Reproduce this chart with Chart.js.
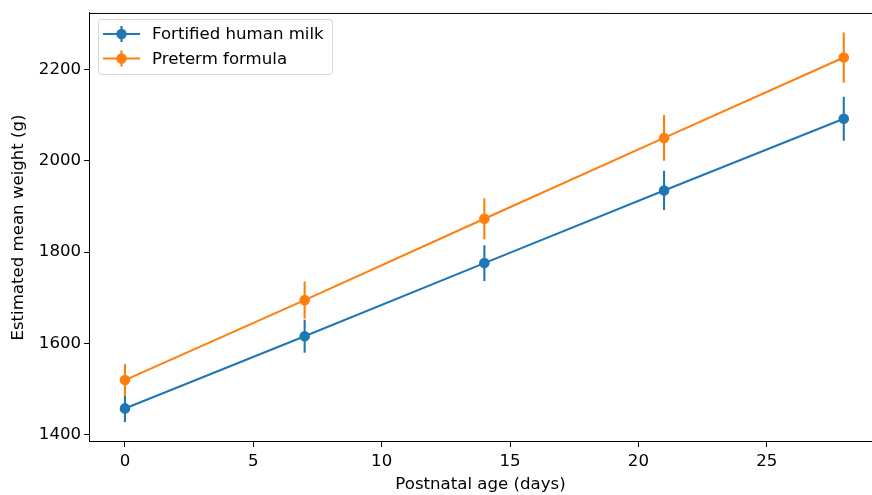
<!DOCTYPE html>
<html>
<head>
<meta charset="utf-8">
<script src="https://cdn.jsdelivr.net/npm/chart.js@4"></script>
<style>
html,body{margin:0;padding:0;background:#fff;}
#wrap{width:872px;height:495px;}
</style>
</head>
<body>
<div id="wrap"><canvas id="c" width="872" height="495"></canvas></div>
<script>
const days = [0, 7, 14, 21, 28];
const milkMean = [1458, 1616, 1776, 1935, 2092];
const milkErr = [30, 36, 39, 43, 48];
const formulaMean = [1520, 1695, 1873, 2050, 2226];
const formulaErr = [35, 41, 45, 50, 55];
const xTicks = [0, 5, 10, 15, 20, 25];
const yTicks = [1400, 1600, 1800, 2000, 2200];
const seriesNames = ['Fortified human milk', 'Preterm formula'];
const colors = ['#1f77b4', '#ff7f0e'];

const FONT = 'DejaVu Sans';
const FS = 16.6;

function pts(means, errs){ return days.map((d,i)=>({x:d, y:means[i], err:errs[i]})); }

const errorBars = {
  id:'errorBars',
  beforeDatasetDraw(chart, args){
    const ds = chart.data.datasets[args.index];
    const ctx = chart.ctx, xs = chart.scales.x, ys = chart.scales.y;
    ctx.save();
    ctx.strokeStyle = ds.borderColor;
    ctx.lineWidth = 2.08;
    ctx.beginPath();
    ds.data.forEach(p=>{
      const px = xs.getPixelForValue(p.x);
      ctx.moveTo(px, ys.getPixelForValue(p.y - p.err));
      ctx.lineTo(px, ys.getPixelForValue(p.y + p.err));
    });
    ctx.stroke();
    ctx.restore();
  }
};

const frame = {
  id:'frame',
  afterDraw(chart){
    const {ctx, chartArea:a} = chart;
    ctx.save();
    ctx.strokeStyle = '#000';
    ctx.lineWidth = 1;
    ctx.beginPath();
    ctx.moveTo(a.left, a.top + 0.5);
    ctx.lineTo(a.right + 10, a.top + 0.5);
    ctx.stroke();
    // legend
    const bx = 98, by = 19, bw = 234, bh = 55, r = 3;
    ctx.fillStyle = 'rgba(255,255,255,0.8)';
    ctx.strokeStyle = 'rgba(204,204,204,0.8)';
    ctx.lineWidth = 1;
    ctx.beginPath();
    ctx.moveTo(bx + r + 0.5, by + 0.5);
    ctx.arcTo(bx + bw + 0.5, by + 0.5, bx + bw + 0.5, by + bh + 0.5, r);
    ctx.arcTo(bx + bw + 0.5, by + bh + 0.5, bx + 0.5, by + bh + 0.5, r);
    ctx.arcTo(bx + 0.5, by + bh + 0.5, bx + 0.5, by + 0.5, r);
    ctx.arcTo(bx + 0.5, by + 0.5, bx + bw + 0.5, by + 0.5, r);
    ctx.closePath();
    ctx.fill(); ctx.stroke();
    chart.data.datasets.forEach((ds, i)=>{
      const yy = 34 + i * 24.5;
      ctx.strokeStyle = ds.borderColor;
      ctx.lineWidth = 2.08;
      ctx.beginPath();
      ctx.moveTo(103, yy); ctx.lineTo(140, yy);
      ctx.moveTo(121.5, yy - 8); ctx.lineTo(121.5, yy + 8);
      ctx.stroke();
      ctx.fillStyle = ds.borderColor;
      ctx.beginPath();
      ctx.arc(121.5, yy, 5.2, 0, Math.PI * 2);
      ctx.fill();
      ctx.fillStyle = '#000';
      ctx.font = FS + 'px "' + FONT + '"';
      ctx.textBaseline = 'middle';
      ctx.textAlign = 'left';
      ctx.fillText(ds.label, 152, yy + 1);
    });
    ctx.restore();
  }
};

const datasets = [
  {label: seriesNames[0], data: pts(milkMean, milkErr), order: 1},
  {label: seriesNames[1], data: pts(formulaMean, formulaErr), order: 0}
].map((d, i)=>Object.assign(d, {
  borderColor: colors[i], backgroundColor: colors[i],
  pointBackgroundColor: colors[i], pointBorderColor: colors[i],
  borderWidth: 2.08, pointRadius: 4.6, pointBorderWidth: 1.4,
  pointHoverRadius: 4.6, showLine: true, tension: 0, fill: false
}));

new Chart(document.getElementById('c'), {
  type: 'scatter',
  data: {datasets},
  options: {
    responsive: false,
    animation: false,
    devicePixelRatio: 1,
    layout: {autoPadding: false, padding: {top: 11, right: 0, left: 0, bottom: 0}},
    plugins: {legend: {display: false}, tooltip: {enabled: false}},
    scales: {
      x: {
        type: 'linear', min: -1.4, max: 29.1,
        afterBuildTicks(s){ s.ticks = xTicks.map(v=>({value:v})); },
        afterFit(s){ s.height = 53; },
        grid: {drawOnChartArea: false, drawTicks: true, tickLength: 4.9, tickColor: '#000', tickWidth: 1},
        border: {color: '#000', width: 1},
        ticks: {color: '#000', font: {family: FONT, size: FS}, padding: 5, maxRotation: 0,
                callback: v => String(v)},
        title: {display: true, text: 'Postnatal age (days)', color: '#000', font: {family: FONT, size: FS}, padding: {top: 0, bottom: 0}}
      },
      y: {
        type: 'linear', min: 1384.5, max: 2323.5,
        afterBuildTicks(s){ s.ticks = yTicks.map(v=>({value:v})); },
        afterFit(s){ s.width = 89; },
        grid: {drawOnChartArea: false, drawTicks: true, tickLength: 4.9, tickColor: '#000', tickWidth: 1},
        border: {color: '#000', width: 1},
        ticks: {color: '#000', font: {family: FONT, size: FS}, padding: 3,
                callback: v => String(v)},
        title: {display: true, text: 'Estimated mean weight (g)', color: '#000', font: {family: FONT, size: FS}, padding: {top: 9, bottom: 0}}
      }
    }
  },
  plugins: [errorBars, frame]
});
</script>
</body>
</html>
